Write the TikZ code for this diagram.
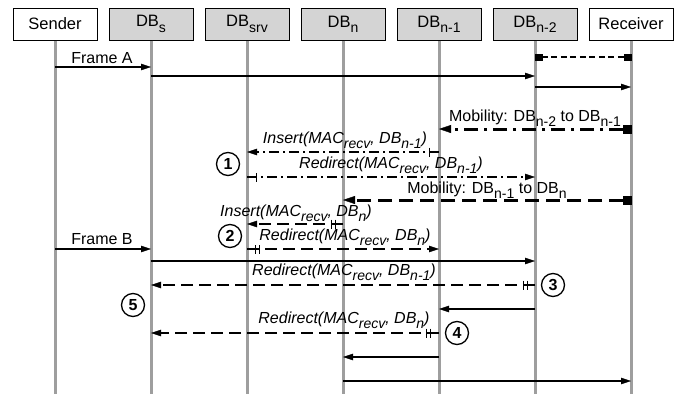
\documentclass[tikz,border=0pt]{standalone}
\usepackage{fontspec}
\setmainfont{Liberation Sans}
\usetikzlibrary{arrows.meta,calc,decorations.markings}
\newcommand\lo[1]{\raisebox{-0.6ex}{\fontsize{14}{14}\selectfont #1}}
\begin{document}
\begin{tikzpicture}[x=1pt,y=-1pt,
  font=\fontsize{16}{18}\selectfont,
  actor/.style={draw=black,line width=1pt,minimum width=84pt,minimum height=32pt,inner sep=0pt,fill=white,font=\fontsize{16.5}{18}\selectfont},
  dbbox/.style={actor,fill=black!17},
  life/.style={draw=black!38,line width=3pt},
  tipA/.style={-{Triangle[length=10pt,width=6.5pt,line width=0.4pt]}},
  msg/.style={line width=1.1pt,tipA},
  dthin/.style={msg,dash pattern=on 12pt off 6pt},
  ddthin/.style={msg,dash pattern=on 10pt off 4pt on 2pt off 4pt},
  mobdd/.style={line width=3pt,dash pattern=on 14pt off 6pt on 3pt off 6pt,{Square[length=8pt,width=8pt,line width=0.4pt]}-{Triangle[length=12pt,width=8pt,line width=0.4pt]}},
  mobdash/.style={line width=3pt,dash pattern=on 14pt off 7pt,{Square[length=8pt,width=8pt,line width=0.4pt]}-{Triangle[length=12pt,width=8pt,line width=0.4pt]}},
  topdash/.style={line width=2.5pt,dash pattern=on 6pt off 3.5pt,{Square[length=7pt,width=7pt,line width=0.4pt]}-{Square[length=7pt,width=7pt,line width=0.4pt]}},
  tickone/.style={postaction={decorate,decoration={markings,mark=at position #1 with {\draw[solid,-,line width=0.9pt] (0,-4.5pt)--(0,4.5pt);}}}},
  ticktwo/.style={postaction={decorate,decoration={markings,
     mark=at position #1-2pt with {\draw[solid,-,line width=0.9pt] (0,-4.5pt)--(0,4.5pt);},
     mark=at position #1+2pt with {\draw[solid,-,line width=0.9pt] (0,-4.5pt)--(0,4.5pt);}}}},
  lbl/.style={anchor=base,inner sep=0pt,font=\fontsize{16}{18}\selectfont\itshape},
  mlbl/.style={anchor=base,inner sep=0pt},
  num/.style={circle,draw,line width=1.3pt,minimum size=23pt,inner sep=0pt,font=\fontsize{16}{16}\selectfont\bfseries}
]
\useasboundingbox (0,0) rectangle (681,397);

% boxes
\node[actor] (S)    at (55,24)  {Sender};
\node[dbbox] (Ds)   at (151,24) {DB\lo{s}};
\node[dbbox] (Dsrv) at (247,24) {DB\lo{srv}};
\node[dbbox] (Dn)   at (343,24) {DB\lo{n}};
\node[dbbox] (Dn1)  at (439,24) {DB\lo{n-1}};
\node[dbbox] (Dn2)  at (535,24) {DB\lo{n-2}};
\node[actor] (R)    at (631,24) {Receiver};

% lifelines
\foreach \n in {S,Ds,Dsrv,Dn,Dn1,Dn2,R}{
  \draw[life] (\n.south) -- (\n.south |- 0,394);
}

% top dashed link
\draw[topdash] (Dn2 |- 0,57) -- (R |- 0,57);

% Frame A
\draw[msg] (S |- 0,67) -- (Ds |- 0,67);
\node[mlbl] (fa) at (102,63) {Frame A};
\draw[msg] (Ds |- 0,76) -- (Dn2 |- 0,76);
\draw[msg] (Dn2 |- 0,87) -- (R |- 0,87);

% Mobility n-2 to n-1
\draw[mobdd] (R |- 0,129) -- (Dn1 |- 0,129);
\node[mlbl] (m1) at (535,121) {Mobility: DB\lo{n-2} to DB\lo{n-1}};

% Insert n-1
\draw[ddthin,tickone=10pt] (Dn1 |- 0,152) -- (Dsrv |- 0,152);
\node[lbl] (i1) at (345,143) {Insert(MAC\lo{recv}, DB\lo{n-1})};
\node[num] (c1) at (228,164) {1};

% Redirect n-1
\draw[ddthin,tickone=9pt] (Dsrv |- 0,177) -- (Dn2 |- 0,177);
\node[lbl] (r1) at (391,168) {Redirect(MAC\lo{recv}, DB\lo{n-1})};

% Mobility n-1 to n
\draw[mobdash] (R |- 0,200) -- (Dn |- 0,200);
\node[mlbl] (m2) at (487,193) {Mobility: DB\lo{n-1} to DB\lo{n}};

% Insert n
\draw[dthin,ticktwo=10pt] (Dn |- 0,224) -- (Dsrv |- 0,224);
\node[lbl] (i2) at (296,216) {Insert(MAC\lo{recv}, DB\lo{n})};
\node[num] (c2) at (230,236) {2};

% Redirect n
\draw[dthin,ticktwo=10pt] (Dsrv |- 0,249) -- (Dn1 |- 0,249);
\node[lbl] (r2) at (345,240) {Redirect(MAC\lo{recv}, DB\lo{n})};

% Frame B
\draw[msg] (S |- 0,249) -- (Ds |- 0,249);
\node[mlbl] (fb) at (102,244) {Frame B};
\draw[msg] (Ds |- 0,261) -- (Dn2 |- 0,261);

% Redirect n-1 (3)
\draw[dthin,ticktwo=10pt] (Dn2 |- 0,285) -- (Ds |- 0,285);
\node[lbl] (r3) at (344,275) {Redirect(MAC\lo{recv}, DB\lo{n-1})};
\node[num] (c3) at (553,285) {3};

\node[num] (c5) at (133,305) {5};
\draw[msg] (Dn2 |- 0,309) -- (Dn1 |- 0,309);

% Redirect n (4)
\draw[dthin,ticktwo=11pt] (Dn1 |- 0,333) -- (Ds |- 0,333);
\node[lbl] (r4) at (344,323) {Redirect(MAC\lo{recv}, DB\lo{n})};
\node[num] (c4) at (457,333) {4};

\draw[msg] (Dn1 |- 0,357) -- (Dn |- 0,357);
\draw[msg] (Dn |- 0,381) -- (R |- 0,381);
\end{tikzpicture}
\end{document}
